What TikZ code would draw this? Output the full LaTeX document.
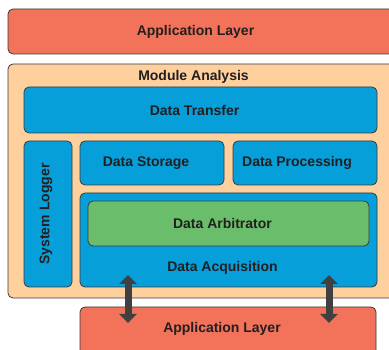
\documentclass[tikz,border=0pt]{standalone}
\usepackage{fontspec}
\setmainfont{Liberation Sans}
\usetikzlibrary{arrows.meta}
\usetikzlibrary{shapes}

\definecolor{appred}{HTML}{F2735A}
\definecolor{peach}{HTML}{FED09D}
\definecolor{modblue}{HTML}{079FDA}
\definecolor{arbgreen}{HTML}{6ABD6A}
\definecolor{edgegray}{HTML}{3A3A3A}
\definecolor{txtdark}{HTML}{231F20}
\definecolor{arrowgray}{HTML}{404040}

\tikzset{
    box/.style={draw=edgegray, line width=0.8pt, rounded corners=5pt, inner sep=0pt},
    appbox/.style={box, fill=appred},
    modbox/.style={box, fill=modblue},
    lbl/.style={font=\fontsize{14}{16}\selectfont\bfseries, text=txtdark, inner sep=0pt, xshift=-6pt},
    bigarrow/.style={arrowgray, line width=7pt, {Triangle[width=17pt,length=9pt]}-{Triangle[width=17pt,length=9pt]}}
}

\begin{document}
\begin{tikzpicture}[x=1pt, y=-1pt]
    \useasboundingbox (0, 0) rectangle (389, 350);

        % Declare the boxes
        \node[appbox, minimum width=387pt, minimum height=45pt] at (201.5, 31.5) (apptop) {};
        \node[box, fill=peach, minimum width=387pt, minimum height=234pt] at (201.5, 181) (module) {};
        \node[modbox, minimum width=353pt, minimum height=46pt] at (200.5, 110) (transfer) {};
        \node[modbox, minimum width=48pt, minimum height=146pt] at (48, 214) (logger) {};
        \node[modbox, minimum width=144pt, minimum height=44pt] at (152, 163) (storage) {};
        \node[modbox, minimum width=144pt, minimum height=44pt] at (305, 163) (processing) {};
        \node[modbox, minimum width=297pt, minimum height=94pt] at (228.5, 240) (acquisition) {};
        \node[box, fill=arbgreen, minimum width=281pt, minimum height=45pt] at (228.5, 223.5) (arbitrator) {};
        \node[appbox, minimum width=296pt, minimum height=53pt] at (228, 333.5) (appbottom) {};

        % Declare the labels
        \node[lbl] at (apptop) (apptoptext) {Application Layer};
        \node[lbl] at (199.5, 77) (moduletext) {Module Analysis};
        \node[lbl] at (transfer) (transfertext) {Data Transfer};
        \node[lbl, xshift=4pt, rotate=90] at (logger) (loggertext) {System Logger};
        \node[lbl] at (storage) (storagetext) {Data Storage};
        \node[lbl, xshift=-2pt] at (processing) (processingtext) {Data Processing};
        \node[lbl] at (arbitrator) (arbitratortext) {Data Arbitrator};
        \node[lbl] at (228.5, 268) (acquisitiontext) {Data Acquisition};
        \node[lbl] at (228, 329) (appbottomtext) {Application Layer};

        % Declare arrows
        \coordinate (lefttop) at (128, 275);
        \coordinate (leftbot) at (128, 323);
        \coordinate (righttop) at (329, 275);
        \coordinate (rightbot) at (329, 323);
        \draw[bigarrow] (lefttop) -- (leftbot);
        \draw[bigarrow] (righttop) -- (rightbot);

    \end{tikzpicture}
\end{document}
